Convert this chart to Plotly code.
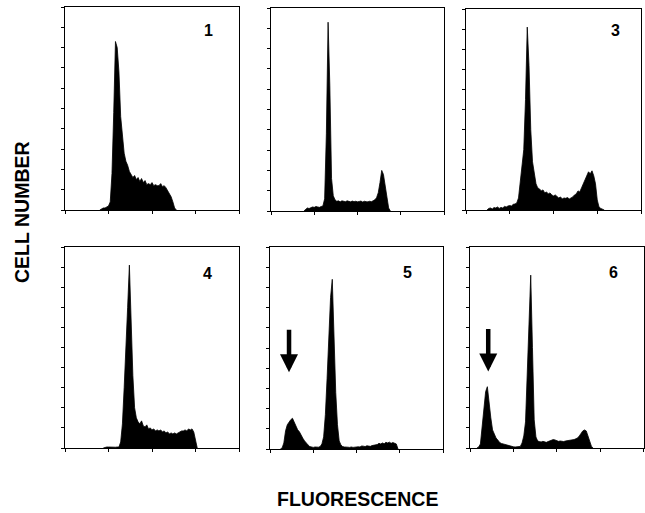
import plotly.graph_objects as go

# ---- data: histogram counts (% of panel scale) in 2-channel bins ----
BIN = 2
p1_start = 40
p1_counts = [0, 0.5, 1, 1, 1.5, 2, 4, 18, 48, 83, 80, 68, 46, 35, 28, 24, 22, 19, 17.5, 16,
             17, 15, 16, 14, 15.5, 13.5, 14.5, 12.5, 13, 12.5, 13.5, 12, 12.5, 12, 12, 13,
             11.5, 12, 11, 9.5, 8, 6.5, 4, 1, 0]
p2_start = 38
p2_counts = [0, 1, 1.5, 1.2, 1.5, 2, 1.8, 2.2, 2, 1.8, 2.2, 2.5, 6, 38, 93, 62, 16, 7.5, 5.5,
             4.8, 5, 4.5, 5, 4.8, 4.6, 5, 4.7, 4.5, 4.9, 4.6, 4.8, 4.5, 4.7, 4.9, 4.4, 4.8,
             4.6, 4.5, 4.8, 4.6, 5, 5.5, 6.5, 9, 14, 20, 18, 12, 5, 1.5, 0]
p3_start = 24
p3_counts = [0, 0.8, 1, 0.5, 1.2, 1, 1.5, 0.8, 1.3, 1, 1.8, 1.5, 2, 2.2, 2, 2.8, 3, 3.5, 6,
             13, 20, 30, 55, 91, 72, 40, 24, 17, 13, 11, 10.5, 9.5, 10, 8.5, 9, 8, 8.5, 7.5,
             7, 7.5, 6.5, 6, 6.5, 5.5, 6, 5.8, 6.2, 5.5, 6, 6.5, 7.5, 8, 9.5, 9, 11, 13, 15,
             17, 19, 18, 19.5, 17, 13, 5, 1.5, 0.8, 0.5, 0]
p4_start = 44
p4_counts = [0, 0.4, 0.5, 0.5, 0.4, 0.5, 0.5, 0.4, 0.5, 0.5, 3, 12, 30, 55, 70, 91, 62, 36,
             20, 15, 13, 12, 13.5, 11, 10.5, 11.5, 9.5, 10, 9, 9.5, 8.5, 9, 8.5, 9, 8, 8.5,
             7.5, 8, 7, 7.5, 7, 7.5, 7, 7.5, 8, 8.5, 8.5, 9, 8.5, 9.5, 9, 9.5, 8, 3, 0]
p5_start = 12
p5_counts = [0, 0.5, 3, 9, 12, 13.5, 14.5, 15.2, 13, 11, 9.5, 8.5, 6.5, 5.3, 4, 2.8, 2, 1.2,
             1, 0.8, 1, 0.8, 0.9, 1.2, 2.5, 6, 17, 35, 55, 75, 84, 55, 28, 12, 4, 2, 1.2, 1,
             0.8, 0.9, 0.8, 1, 0.8, 1, 0.9, 1.1, 1, 1.5, 1.4, 1.2, 1.6, 1.5, 1.3, 1.7, 1.8,
             2, 2.2, 2.8, 2.5, 3, 2.6, 3.3, 3, 3.4, 2.8, 3.2, 3, 2.5, 0]
p6_start = 8
p6_counts = [0, 0.5, 2, 10, 21, 28, 30.5, 22, 15, 9, 6.5, 5, 4, 2.8, 2.3, 2, 1.8, 1.6, 1.3,
             1, 0.8, 0.6, 0.5, 0.6, 0.5, 0.8, 2.5, 6, 13, 39, 60, 86, 50, 14, 5.5, 3.5, 3.2,
             3, 3.3, 2.9, 2.8, 3.2, 3.5, 3.8, 4.2, 4, 3.6, 3.3, 3.5, 3.4, 3.2, 3.5, 3.6, 3.7,
             3.9, 3.8, 4.2, 4.6, 5, 6, 7.5, 8.5, 9, 8.5, 6, 3, 0.8, 0]

panel_labels = ["1", "", "3", "4", "5", "6"]
arrow_targets = {4: (22, 38), 5: (21, 38)}   # panel index -> (channel, count) the arrow points at
x_title = "FLUORESCENCE"
y_title = "CELL NUMBER"

panels = [(p1_start, p1_counts), (p2_start, p2_counts), (p3_start, p3_counts),
          (p4_start, p4_counts), (p5_start, p5_counts), (p6_start, p6_counts)]

# ---- layout (pixel boxes of each panel) ----
W, H = 645, 513
boxes = [(65, 239, 7, 210), (271, 444, 8, 211), (466, 641, 9, 210),
         (65, 239, 247, 448), (270, 443, 247, 449), (470, 643.5, 247, 448)]
label_pos = [(208, 31), None, (615, 31), (207, 273), (407, 272), (613, 272)]

FONT = "Liberation Sans, Arial, sans-serif"
fig = go.Figure()
annotations = []

for i, ((start, counts), (x0, x1, y0, y1)) in enumerate(zip(panels, boxes)):
    n = i + 1
    xs = [start + BIN * k for k in range(len(counts))]
    fig.add_trace(go.Scatter(
        x=xs, y=counts, mode="lines", fill="tozeroy",
        line=dict(color="black", width=0.8, shape="linear"),
        fillcolor="black", showlegend=False, hoverinfo="skip",
        xaxis=f"x{n}", yaxis=f"y{n}"))
    ax_common = dict(showgrid=False, zeroline=False, showticklabels=False,
                     showline=True, linecolor="black", linewidth=1, mirror=True,
                     ticks="outside", ticklen=3, tickwidth=1, tickcolor="black",
                     fixedrange=True)
    fig.update_layout(**{
        f"xaxis{n}": dict(domain=[x0 / W, x1 / W], range=[0, 200], dtick=50,
                          anchor=f"y{n}", **ax_common),
        f"yaxis{n}": dict(domain=[1 - y1 / H, 1 - y0 / H], range=[0, 100], dtick=10,
                          anchor=f"x{n}", **ax_common),
    })
    if panel_labels[i]:
        lx, ly = label_pos[i]
        annotations.append(dict(x=lx / W, y=1 - ly / H, xref="paper", yref="paper",
                                text=f"<b>{panel_labels[i]}</b>", showarrow=False,
                                font=dict(family=FONT, size=16, color="black"),
                                xanchor="center", yanchor="middle"))
    if i in arrow_targets:
        tx, ty = arrow_targets[i]
        annotations.append(dict(x=tx, y=ty, xref=f"x{n}", yref=f"y{n}", text="",
                                showarrow=True, arrowhead=2, arrowsize=0.8,
                                arrowwidth=4.5, arrowcolor="black", ax=0, ay=-44,
                                standoff=0))

annotations.append(dict(x=22 / W, y=1 - 212 / H, xref="paper", yref="paper",
                        text=f"<b>{y_title}</b>", textangle=-90, showarrow=False,
                        font=dict(family=FONT, size=19.5, color="black"),
                        xanchor="center", yanchor="middle"))
annotations.append(dict(x=357 / W, y=1 - 499 / H, xref="paper", yref="paper",
                        text=f"<b>{x_title}</b>", showarrow=False,
                        font=dict(family=FONT, size=19.5, color="black"),
                        xanchor="center", yanchor="middle"))

fig.update_layout(width=W, height=H, margin=dict(l=0, r=0, t=0, b=0),
                  paper_bgcolor="white", plot_bgcolor="white",
                  annotations=annotations, showlegend=False)

fig.write_html("out.html", config={"displayModeBar": False},
               post_script="document.body.style.margin='0';document.body.style.padding='0';"
                           "document.body.style.overflow='hidden';")
